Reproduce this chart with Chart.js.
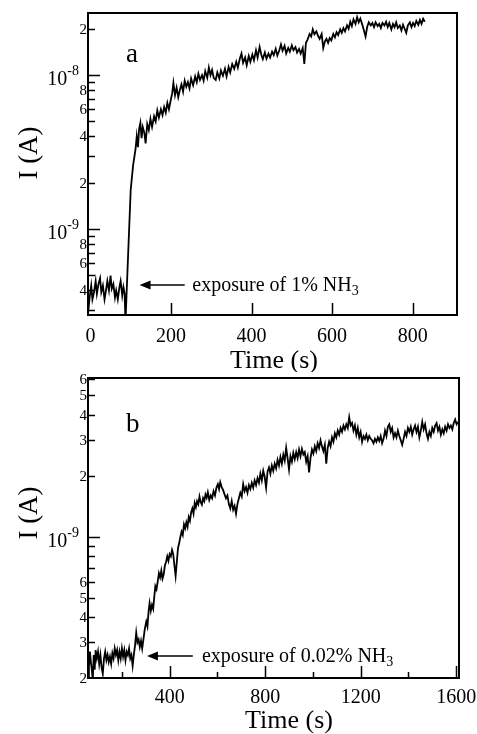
<!DOCTYPE html>
<html>
<head>
<meta charset="utf-8">
<script src="https://cdn.jsdelivr.net/npm/chart.js@4.4.1/dist/chart.umd.min.js"></script>
<style>
  body { margin: 0; background: #fff; }
  .panel { position: absolute; left: 0; width: 477px; }
</style>
</head>
<body>
<div class="panel" style="top:0;height:372px"><canvas id="chartA"></canvas></div>
<div class="panel" style="top:372px;height:362px"><canvas id="chartB"></canvas></div>
<script>
// panel a: 1% NH3
const timeA = [-6, -2, 2, 5, 9, 13, 16, 20, 24, 27, 31, 35, 38, 42, 46, 50, 53, 57, 61, 64, 68, 72, 75, 79, 82, 85,
  87, 100, 106, 112, 115, 118, 121, 124, 127, 130, 134, 137, 141, 145, 149, 153, 158, 162, 166, 170, 175, 179, 183, 187,
  191, 195, 199, 203, 206, 210, 214, 218, 222, 226, 230, 234, 238, 242, 246, 250, 255, 260, 264, 268, 272, 277, 281, 285,
  290, 294, 298, 302, 306, 311, 315, 320, 324, 329, 334, 338, 343, 347, 352, 357, 362, 366, 371, 375, 379, 384, 388, 393,
  397, 402, 406, 411, 415, 420, 424, 428, 433, 437, 442, 446, 451, 455, 460, 464, 469, 473, 477, 482, 486, 491, 495, 500,
  504, 509, 513, 518, 522, 527, 531, 535, 539, 544, 548, 552, 556, 561, 565, 569, 574, 578, 582, 586, 590, 594, 598, 603,
  607, 611, 615, 620, 624, 628, 632, 637, 641, 645, 649, 653, 658, 662, 666, 670, 675, 679, 683, 687, 691, 696, 700, 704,
  708, 713, 717, 721, 725, 730, 734, 738, 742, 747, 751, 755, 759, 763, 768, 772, 776, 780, 784, 788, 793, 797, 801, 805,
  809, 814, 818, 822, 826, 830];
const currentA = [2.8e-10, 3.6e-10, 4.3e-10, 3.5e-10, 3.9e-10, 4.6e-10, 3.8e-10, 4.4e-10, 4.8e-10, 3.9e-10, 4.3e-10, 3.5e-10,
  3.9e-10, 4.6e-10, 4.0e-10, 5.0e-10, 4.1e-10, 4.4e-10, 3.6e-10, 4.0e-10, 3.5e-10, 4.2e-10, 4.6e-10, 3.7e-10, 4.2e-10, 3.8e-10,
  2.5e-10, 1.8e-9, 2.6e-9, 3.3e-9, 4.0e-9, 3.4e-9, 4.5e-9, 4.9e-9, 3.9e-9, 4.6e-9, 4.2e-9, 3.6e-9, 4.8e-9, 4.4e-9, 5.2e-9,
  4.6e-9, 5.4e-9, 5.0e-9, 5.9e-9, 5.3e-9, 6.0e-9, 5.5e-9, 6.2e-9, 5.7e-9, 6.6e-9, 6.0e-9, 6.8e-9, 7.6e-9, 8.9e-9, 7.4e-9,
  8.3e-9, 7.2e-9, 8.0e-9, 8.7e-9, 7.8e-9, 9.2e-9, 8.4e-9, 9.0e-9, 8.2e-9, 9.5e-9, 8.6e-9, 9.8e-9, 9.0e-9, 1.02e-8, 9.3e-9,
  1.0e-8, 9.2e-9, 1.06e-8, 9.6e-9, 1.12e-8, 1.0e-8, 1.08e-8, 9.6e-9, 9.3e-9, 1.04e-8, 9.5e-9, 1.07e-8, 9.9e-9, 1.1e-8, 9.8e-9,
  1.13e-8, 1.04e-8, 1.18e-8, 1.1e-8, 1.22e-8, 1.12e-8, 1.28e-8, 1.38e-8, 1.2e-8, 1.3e-8, 1.16e-8, 1.33e-8, 1.22e-8, 1.36e-8,
  1.25e-8, 1.45e-8, 1.3e-8, 1.52e-8, 1.36e-8, 1.27e-8, 1.4e-8, 1.28e-8, 1.38e-8, 1.3e-8, 1.42e-8, 1.35e-8, 1.48e-8, 1.34e-8,
  1.45e-8, 1.58e-8, 1.44e-8, 1.55e-8, 1.38e-8, 1.5e-8, 1.42e-8, 1.56e-8, 1.45e-8, 1.52e-8, 1.4e-8, 1.48e-8, 1.38e-8, 1.5e-8,
  1.18e-8, 1.62e-8, 1.7e-8, 1.85e-8, 1.78e-8, 1.98e-8, 1.84e-8, 1.92e-8, 1.8e-8, 1.72e-8, 1.85e-8, 1.5e-8, 1.65e-8, 1.72e-8,
  1.62e-8, 1.74e-8, 1.68e-8, 1.85e-8, 1.76e-8, 1.9e-8, 1.82e-8, 1.98e-8, 1.88e-8, 2.02e-8, 1.92e-8, 2.1e-8, 2.0e-8, 2.22e-8,
  2.08e-8, 2.3e-8, 2.15e-8, 2.38e-8, 2.2e-8, 2.33e-8, 2.12e-8, 1.95e-8, 1.78e-8, 2.05e-8, 2.2e-8, 2.1e-8, 2.18e-8, 2.05e-8,
  2.2e-8, 2.08e-8, 2.15e-8, 2.02e-8, 2.18e-8, 2.1e-8, 2.22e-8, 2.05e-8, 2.18e-8, 1.98e-8, 2.15e-8, 2.05e-8, 2.2e-8, 2.02e-8,
  2.1e-8, 1.95e-8, 2.12e-8, 2.0e-8, 1.88e-8, 2.1e-8, 2.2e-8, 2.05e-8, 2.18e-8, 2.08e-8, 2.25e-8, 2.12e-8, 2.28e-8, 2.15e-8,
  2.32e-8, 2.22e-8];

// panel b: 0.02% NH3
const timeB = [58, 62, 66, 70, 74, 78, 82, 86, 90, 95, 100, 105, 110, 115, 120, 125, 130, 135, 140, 145, 150, 155, 160, 165,
  170, 175, 180, 185, 190, 195, 200, 205, 210, 215, 220, 225, 230, 235, 240, 245, 250, 255, 260, 265, 270, 275, 280, 285, 290,
  296, 302, 307, 312, 316, 321, 326, 331, 336, 340, 345, 350, 355, 360, 365, 370, 375, 380, 385, 390, 395, 400, 405, 410, 415,
  420, 425, 430, 435, 440, 445, 450, 455, 460, 465, 470, 475, 480, 485, 490, 495, 500, 505, 510, 515, 520, 525, 530, 535, 540,
  545, 550, 555, 560, 566, 572, 578, 584, 590, 596, 602, 607, 612, 618, 624, 630, 636, 642, 648, 654, 660, 666, 672, 678, 684,
  690, 696, 702, 708, 714, 720, 726, 732, 738, 744, 750, 756, 762, 768, 774, 780, 786, 792, 798, 804, 810, 816, 822, 828, 834,
  840, 846, 852, 858, 864, 870, 876, 882, 888, 894, 900, 906, 912, 918, 924, 930, 936, 942, 948, 954, 960, 966, 972, 978, 984,
  990, 996, 1002, 1008, 1014, 1020, 1026, 1032, 1038, 1044, 1050, 1056, 1062, 1068, 1074, 1080, 1086, 1092, 1098, 1104, 1110,
  1116, 1122, 1128, 1134, 1140, 1146, 1152, 1158, 1164, 1170, 1176, 1182, 1188, 1194, 1200, 1206, 1212, 1218, 1224, 1230,
  1236, 1242, 1248, 1254, 1260, 1266, 1272, 1278, 1284, 1290, 1296, 1302, 1308, 1314, 1320, 1326, 1332, 1338, 1344, 1350,
  1356, 1362, 1368, 1374, 1380, 1386, 1392, 1398, 1404, 1410, 1416, 1422, 1428, 1434, 1440, 1446, 1452, 1458, 1464, 1470,
  1476, 1482, 1488, 1494, 1500, 1506, 1512, 1518, 1524, 1530, 1536, 1542, 1548, 1554, 1560, 1566, 1572, 1578, 1584, 1590,
  1596, 1602, 1608];
const currentB = [1.9e-10, 2.3e-10, 2.7e-10, 2.4e-10, 2.2e-10, 1.95e-10, 2.6e-10, 2.2e-10, 2.75e-10, 2.5e-10, 2.7e-10, 2.35e-10,
  2.6e-10, 2.25e-10, 2.1e-10, 2.5e-10, 2.7e-10, 2.45e-10, 2.6e-10, 2.4e-10, 2.55e-10, 2.35e-10, 2.65e-10, 2.5e-10, 2.8e-10,
  2.6e-10, 2.75e-10, 2.45e-10, 2.7e-10, 2.5e-10, 2.8e-10, 2.55e-10, 2.75e-10, 2.45e-10, 2.7e-10, 2.6e-10, 2.8e-10, 2.5e-10,
  2.6e-10, 2.3e-10, 2.6e-10, 2.9e-10, 3.35e-10, 3.0e-10, 3.1e-10, 2.85e-10, 3.05e-10, 2.8e-10, 3.1e-10, 3.5e-10, 3.8e-10,
  3.6e-10, 4.3e-10, 4.7e-10, 4.3e-10, 4.6e-10, 4.4e-10, 5.1e-10, 5.7e-10, 5.5e-10, 6.0e-10, 6.6e-10, 6.3e-10, 6.8e-10, 6.2e-10,
  6.5e-10, 7.2e-10, 7.5e-10, 8.0e-10, 7.6e-10, 8.2e-10, 8.0e-10, 8.6e-10, 8.2e-10, 7.2e-10, 6.4e-10, 7.5e-10, 8.8e-10, 9.3e-10,
  1.0e-9, 1.06e-9, 1.02e-9, 1.15e-9, 1.1e-9, 1.18e-9, 1.12e-9, 1.25e-9, 1.2e-9, 1.32e-9, 1.38e-9, 1.3e-9, 1.47e-9, 1.4e-9,
  1.5e-9, 1.45e-9, 1.58e-9, 1.48e-9, 1.44e-9, 1.55e-9, 1.5e-9, 1.62e-9, 1.56e-9, 1.66e-9, 1.52e-9, 1.6e-9, 1.55e-9, 1.68e-9,
  1.6e-9, 1.75e-9, 1.82e-9, 1.72e-9, 1.86e-9, 1.76e-9, 1.7e-9, 1.62e-9, 1.55e-9, 1.6e-9, 1.45e-9, 1.38e-9, 1.5e-9, 1.36e-9,
  1.42e-9, 1.3e-9, 1.45e-9, 1.55e-9, 1.65e-9, 1.58e-9, 1.82e-9, 1.68e-9, 1.76e-9, 1.65e-9, 1.8e-9, 1.72e-9, 1.85e-9, 1.75e-9,
  1.9e-9, 1.8e-9, 1.95e-9, 1.85e-9, 2.05e-9, 1.9e-9, 2.12e-9, 1.98e-9, 1.75e-9, 2.1e-9, 2.2e-9, 2.05e-9, 2.25e-9, 2.12e-9,
  2.3e-9, 2.18e-9, 2.4e-9, 2.25e-9, 2.48e-9, 2.3e-9, 2.55e-9, 2.38e-9, 2.75e-9, 2.45e-9, 2.15e-9, 2.5e-9, 2.35e-9, 2.6e-9,
  2.42e-9, 2.62e-9, 2.45e-9, 2.7e-9, 2.5e-9, 2.72e-9, 2.55e-9, 2.62e-9, 2.35e-9, 2.5e-9, 2.08e-9, 2.45e-9, 2.7e-9, 2.58e-9,
  2.8e-9, 2.65e-9, 2.9e-9, 2.75e-9, 3.0e-9, 2.8e-9, 2.65e-9, 2.85e-9, 2.3e-9, 2.75e-9, 2.95e-9, 2.8e-9, 3.1e-9, 2.95e-9,
  3.25e-9, 3.1e-9, 3.35e-9, 3.2e-9, 3.45e-9, 3.3e-9, 3.55e-9, 3.4e-9, 3.6e-9, 3.45e-9, 3.9e-9, 3.55e-9, 3.65e-9, 3.35e-9,
  3.55e-9, 3.2e-9, 3.45e-9, 3.1e-9, 3.3e-9, 2.95e-9, 3.15e-9, 3.05e-9, 3.2e-9, 3.0e-9, 3.15e-9, 3.05e-9, 3.0e-9, 2.9e-9,
  3.05e-9, 2.95e-9, 3.1e-9, 2.98e-9, 3.15e-9, 2.9e-9, 3.05e-9, 3.35e-9, 3.15e-9, 3.5e-9, 3.6e-9, 3.3e-9, 3.45e-9, 3.1e-9,
  3.25e-9, 3.1e-9, 3.35e-9, 3.15e-9, 3.0e-9, 2.85e-9, 3.05e-9, 3.3e-9, 3.15e-9, 3.45e-9, 3.3e-9, 3.5e-9, 3.2e-9, 3.4e-9,
  3.55e-9, 3.3e-9, 3.5e-9, 3.1e-9, 3.35e-9, 3.7e-9, 3.4e-9, 3.6e-9, 3.25e-9, 3.05e-9, 3.3e-9, 3.15e-9, 3.45e-9, 3.3e-9,
  3.55e-9, 3.65e-9, 3.35e-9, 3.5e-9, 3.2e-9, 3.4e-9, 3.25e-9, 3.5e-9, 3.35e-9, 3.6e-9, 3.45e-9, 3.55e-9, 3.4e-9, 3.65e-9,
  3.8e-9, 3.6e-9, 3.7e-9];

// axis ticks and labels
const xLabelsA = [0, 200, 400, 600, 800];
const xMajorA = [200, 400, 600, 800];
const xMinorA = [];
const yLabelsA = [2e-8, 1e-8, 8e-9, 6e-9, 4e-9, 2e-9, 1e-9, 8e-10, 6e-10, 4e-10];
const yMajorA = [1e-9, 1e-8];
const yMinorA = [3e-10, 4e-10, 5e-10, 6e-10, 7e-10, 8e-10, 9e-10, 2e-9, 3e-9, 4e-9, 5e-9, 6e-9, 7e-9, 8e-9, 9e-9, 2e-8];

const xLabelsB = [400, 800, 1200, 1600];
const xMajorB = [400, 800, 1200, 1600];
const xMinorB = [200, 600, 1000, 1400];
const yLabelsB = [6e-9, 5e-9, 4e-9, 3e-9, 2e-9, 1e-9, 6e-10, 5e-10, 4e-10, 3e-10, 2e-10];
const yMajorB = [1e-9];
const yMinorB = [3e-10, 4e-10, 5e-10, 6e-10, 7e-10, 8e-10, 9e-10, 2e-9, 3e-9, 4e-9, 5e-9, 6e-9];

const SERIF = "'Liberation Serif', 'Times New Roman', serif";

function toPoints(ts, vs) {
    return ts.map((t, i) => ({ x: t, y: vs[i] }));
}

// frame, inward ticks, labels and annotation
const panelPlugin = {
    id: 'panel',
    afterDraw(chart, args, o) {
        const ctx = chart.ctx;
        const a = chart.chartArea;
        const x = chart.scales.x, y = chart.scales.y;
        ctx.save();
        ctx.strokeStyle = '#000';
        ctx.fillStyle = '#000';

        ctx.lineWidth = 1.5;
        ctx.beginPath();
        o.yMajor.forEach(v => { const p = Math.round(y.getPixelForValue(v)) + 0.5; ctx.moveTo(a.left, p); ctx.lineTo(a.left + 12, p); });
        o.yMinor.forEach(v => { const p = Math.round(y.getPixelForValue(v)) + 0.5; ctx.moveTo(a.left, p); ctx.lineTo(a.left + 7, p); });
        o.xMajor.forEach(v => { const p = Math.round(x.getPixelForValue(v)) + 0.5; ctx.moveTo(p, a.bottom); ctx.lineTo(p, a.bottom - 12); });
        o.xMinor.forEach(v => { const p = Math.round(x.getPixelForValue(v)) + 0.5; ctx.moveTo(p, a.bottom); ctx.lineTo(p, a.bottom - 6); });
        ctx.stroke();

        ctx.lineWidth = 2;
        ctx.strokeRect(a.left, a.top, a.right - a.left, a.bottom - a.top);

        // x tick labels
        ctx.font = '20px ' + SERIF;
        ctx.textAlign = 'center';
        ctx.textBaseline = 'alphabetic';
        o.xLabels.forEach(v => ctx.fillText(String(v), x.getPixelForValue(v), a.bottom + o.xLabelDy));

        // y tick labels
        o.yLabels.forEach(v => {
            const p = y.getPixelForValue(v);
            const exp = Math.floor(Math.log10(v) + 1e-9);
            const mant = Math.round(v / Math.pow(10, exp));
            if (mant === 1) {
                ctx.font = '14px ' + SERIF;
                const sup = String(exp);
                const supW = ctx.measureText(sup).width;
                const right = a.left - 9;
                ctx.textAlign = 'left';
                ctx.fillText(sup, right - supW, p);
                ctx.font = '20px ' + SERIF;
                ctx.textAlign = 'right';
                ctx.fillText('10', right - supW, p + 10);
            } else {
                ctx.font = '15px ' + SERIF;
                ctx.textAlign = 'right';
                ctx.fillText(String(mant), a.left - 1, p + 5);
            }
        });

        // axis titles
        ctx.font = '26px ' + SERIF;
        ctx.textAlign = 'center';
        ctx.fillText('Time (s)', o.xTitleX, a.bottom + o.xTitleDy);
        ctx.save();
        ctx.translate(30, a.top + o.yTitleDy);
        ctx.rotate(-Math.PI / 2);
        ctx.font = '27px ' + SERIF;
        ctx.textBaseline = 'middle';
        ctx.fillText('I (A)', 0, 0);
        ctx.restore();

        // panel letter
        ctx.font = '27px ' + SERIF;
        ctx.textAlign = 'left';
        ctx.textBaseline = 'alphabetic';
        ctx.fillText(o.letter, a.left + 38, a.top + o.letterDy);

        // arrow and note
        const ay = y.getPixelForValue(o.arrowY);
        const tip = x.getPixelForValue(o.arrowFrom);
        const tail = x.getPixelForValue(o.arrowTo);
        ctx.lineWidth = 1.5;
        ctx.beginPath();
        ctx.moveTo(tip + 8, ay);
        ctx.lineTo(tail, ay);
        ctx.stroke();
        ctx.beginPath();
        ctx.moveTo(tip, ay);
        ctx.lineTo(tip + 11, ay - 4.5);
        ctx.lineTo(tip + 11, ay + 4.5);
        ctx.closePath();
        ctx.fill();

        let tx = x.getPixelForValue(o.noteAt);
        ctx.font = '20px ' + SERIF;
        ctx.fillText(o.note, tx, ay + 6);
        tx += ctx.measureText(o.note).width;
        ctx.font = '14px ' + SERIF;
        ctx.fillText('3', tx, ay + 10);
        ctx.restore();
    }
};

function makeChart(id, pts, xr, yr, pad, xH, panel) {
    return new Chart(document.getElementById(id), {
        type: 'line',
        data: {
            datasets: [{
                data: pts,
                borderColor: '#000',
                borderWidth: 1.8,
                pointRadius: 0,
                tension: 0,
                fill: false
            }]
        },
        options: {
            responsive: true,
            maintainAspectRatio: false,
            animation: false,
            events: [],
            layout: { padding: pad },
            plugins: { legend: { display: false }, tooltip: { enabled: false }, panel: panel },
            scales: {
                x: {
                    type: 'linear', min: xr[0], max: xr[1],
                    grid: { display: false }, border: { display: false },
                    ticks: { display: false },
                    afterFit: s => { s.height = xH; }
                },
                y: {
                    type: 'logarithmic', min: yr[0], max: yr[1],
                    grid: { display: false }, border: { display: false },
                    ticks: { display: false },
                    afterFit: s => { s.width = 88; }
                }
            }
        },
        plugins: [panelPlugin]
    });
}

makeChart('chartA', toPoints(timeA, currentA), [-6, 910], [2.77e-10, 2.53e-8],
    { top: 13, right: 20, left: 0, bottom: 0 }, 57, {
        xLabels: xLabelsA, xMajor: xMajorA, xMinor: xMinorA,
        yLabels: yLabelsA, yMajor: yMajorA, yMinor: yMinorA,
        xLabelDy: 27, xTitleX: 274, xTitleDy: 53, yTitleDy: 140,
        letter: 'a', letterDy: 49,
        arrowY: 4.33e-10, arrowFrom: 122, arrowTo: 234, noteAt: 253,
        note: 'exposure of 1% NH'
    });

makeChart('chartB', toPoints(timeB, currentB), [58, 1612], [2e-10, 6.1e-9],
    { top: 6, right: 18, left: 0, bottom: 0 }, 56, {
        xLabels: xLabelsB, xMajor: xMajorB, xMinor: xMinorB,
        yLabels: yLabelsB, yMajor: yMajorB, yMinor: yMinorB,
        xLabelDy: 25, xTitleX: 289, xTitleDy: 50, yTitleDy: 135,
        letter: 'b', letterDy: 54,
        arrowY: 2.57e-10, arrowFrom: 305, arrowTo: 497, noteAt: 535,
        note: 'exposure of 0.02% NH'
    });
</script>
</body>
</html>
